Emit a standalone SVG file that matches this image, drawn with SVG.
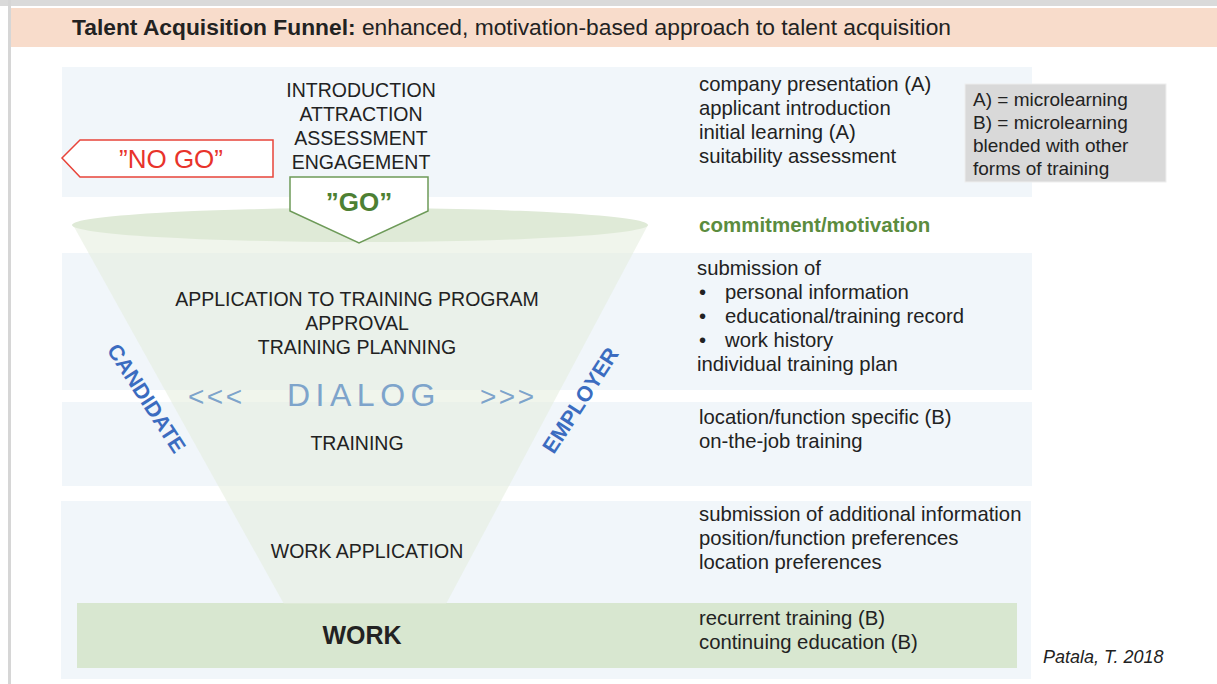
<svg xmlns="http://www.w3.org/2000/svg" width="1217" height="684" viewBox="0 0 1217 684">
<style>
  text { font-family: "Liberation Sans", Arial, sans-serif; fill: #222; }
  .t { font-size: 19.5px; }
  .r { font-size: 20.3px; }
  .c { text-anchor: middle; }
  .panel { fill: #f1f6fa; }
  .side { font-size: 21.5px; font-weight: bold; fill: #3b6cc0; }
  .dlg { fill: #7ea4cb; }
  .leg { font-size: 19px; }
</style>
<rect x="0" y="0" width="1217" height="684" fill="#ffffff"/>
<g id="frame">
  <rect x="0" y="0" width="1217" height="6" fill="#dadada"/>
  <rect x="8" y="0" width="3" height="684" fill="#d6d6d6"/>
</g>
<g id="header">
  <rect x="11" y="8" width="1206" height="39" fill="#f8dccb"/>
  <text x="72" y="35" style="font-size:21.5px" textLength="879" lengthAdjust="spacingAndGlyphs"><tspan font-weight="bold">Talent Acquisition Funnel:</tspan> enhanced, motivation-based approach to talent acquisition</text>
</g>
<g id="panels">
  <rect class="panel" x="62" y="67" width="970" height="130"/>
  <rect class="panel" x="62" y="253" width="970" height="137"/>
  <rect class="panel" x="62" y="402" width="970" height="84"/>
  <rect class="panel" x="61" y="501" width="970" height="178"/>
</g>
<g id="work-band">
  <rect x="77" y="603" width="940" height="65" fill="#d8e7d0"/>
</g>
<g id="funnel">
  <polygon points="73,225 648,225 446,604 284,604" fill="#e3eddc" fill-opacity="0.55"/>
  <ellipse cx="360" cy="225" rx="288" ry="17" fill="#dfead7"/>
</g>
<g id="stage-intro">
  <text class="t c" x="361" y="97">INTRODUCTION</text>
  <text class="t c" x="361" y="121">ATTRACTION</text>
  <text class="t c" x="361" y="145">ASSESSMENT</text>
  <text class="t c" x="361" y="169">ENGAGEMENT</text>
</g>
<g id="no-go">
  <polygon points="62,158 80,140 273,140 273,177 80,177" fill="#ffffff" stroke="#e8443a" stroke-width="1.5"/>
  <text class="c" x="171" y="168" style="font-size:26px;fill:#e8332b">”NO GO”</text>
</g>
<g id="go">
  <polygon points="290,177 428,177 428,211 359,243 290,211" fill="#ffffff" stroke="#6d9a58" stroke-width="1.5"/>
  <text class="c" x="359" y="211" style="font-size:26px;font-weight:bold;fill:#4d8033">”GO”</text>
</g>
<g id="stage-application">
  <text class="t c" x="357" y="306">APPLICATION TO TRAINING PROGRAM</text>
  <text class="t c" x="357" y="330">APPROVAL</text>
  <text class="t c" x="357" y="354">TRAINING PLANNING</text>
</g>
<g id="dialog">
  <text class="dlg" x="188" y="406" style="font-size:28px;letter-spacing:2.5px">&lt;&lt;&lt;</text>
  <text class="dlg" x="287" y="406" style="font-size:32px;letter-spacing:5.5px">DIALOG</text>
  <text class="dlg" x="480" y="406" style="font-size:28px;letter-spacing:2.5px">&gt;&gt;&gt;</text>
</g>
<g id="candidate">
  <text class="side c" transform="translate(147,398) rotate(57)" x="0" y="8">CANDIDATE</text>
</g>
<g id="employer">
  <text class="side c" transform="translate(580,400) rotate(-57)" x="0" y="8">EMPLOYER</text>
</g>
<g id="stage-training">
  <text class="t c" x="357" y="450">TRAINING</text>
</g>
<g id="stage-work-application">
  <text class="t c" x="367" y="558">WORK APPLICATION</text>
</g>
<g id="stage-work">
  <text class="c" x="362" y="644" style="font-size:25px;font-weight:bold">WORK</text>
</g>
<g id="notes-intro">
  <text class="r" x="699" y="91">company presentation (A)</text>
  <text class="r" x="699" y="115">applicant introduction</text>
  <text class="r" x="699" y="139">initial learning (A)</text>
  <text class="r" x="699" y="163">suitability assessment</text>
</g>
<g id="legend">
  <rect x="965" y="84" width="201" height="98" fill="#d9d9d9" stroke="#eeeeee" stroke-width="1"/>
  <text class="leg" x="973" y="106">A) = microlearning</text>
  <text class="leg" x="973" y="129">B) = microlearning</text>
  <text class="leg" x="973" y="152">blended with other</text>
  <text class="leg" x="973" y="175">forms of training</text>
</g>
<g id="commitment">
  <text x="699" y="232" style="font-size:20.5px;font-weight:bold;fill:#5b8c3e">commitment/motivation</text>
</g>
<g id="notes-application">
  <text class="r" x="697" y="275">submission of</text>
  <text class="r" x="699" y="299">•</text>
  <text class="r" x="725" y="299">personal information</text>
  <text class="r" x="699" y="323">•</text>
  <text class="r" x="725" y="323">educational/training record</text>
  <text class="r" x="699" y="347">•</text>
  <text class="r" x="725" y="347">work history</text>
  <text class="r" x="697" y="371">individual training plan</text>
</g>
<g id="notes-training">
  <text class="r" x="699" y="424">location/function specific (B)</text>
  <text class="r" x="699" y="448">on-the-job training</text>
</g>
<g id="notes-work-application">
  <text class="r" x="699" y="521">submission of additional information</text>
  <text class="r" x="699" y="545">position/function preferences</text>
  <text class="r" x="699" y="569">location preferences</text>
</g>
<g id="notes-work">
  <text class="r" x="699" y="625">recurrent training (B)</text>
  <text class="r" x="699" y="649">continuing education (B)</text>
</g>
<g id="credit">
  <text x="1043" y="663" style="font-size:18px;font-style:italic">Patala, T. 2018</text>
</g>
<g id="connectors"></g>
</svg>
